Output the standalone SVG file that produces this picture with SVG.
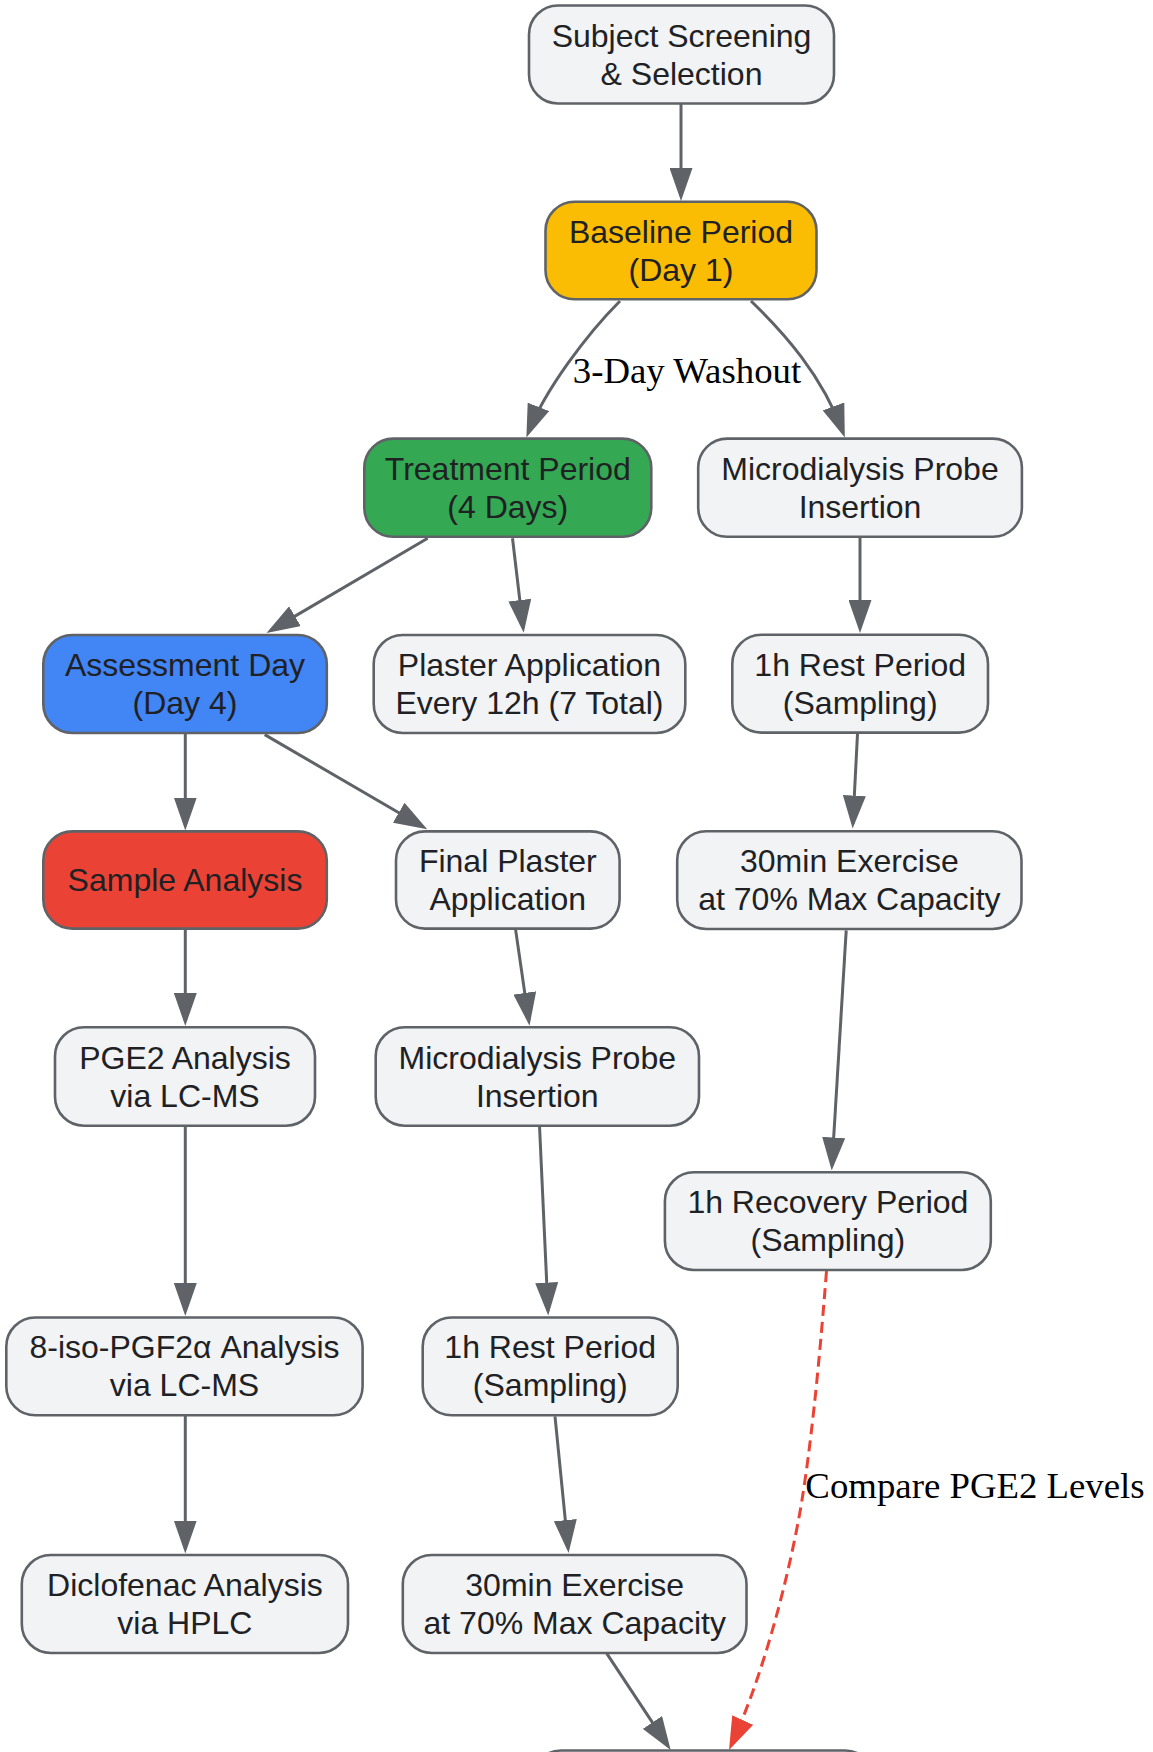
<svg xmlns="http://www.w3.org/2000/svg" width="1153" height="1752" viewBox="0 0 1153 1752">
<style>
.n rect{stroke:#5f6368;stroke-width:2.6}
.g rect{fill:#f1f3f4}
.n text{font-family:"Liberation Sans",Arial,sans-serif;font-size:32px;fill:#202124;text-anchor:middle}
.e{fill:none;stroke:#5f6368;stroke-width:3;marker-end:url(#ah)}
.r{fill:none;stroke:#ea4335;stroke-width:3;stroke-dasharray:11 6;marker-end:url(#ahr)}
.lbl{font-family:"Liberation Serif","Times New Roman",serif;font-size:36.8px;fill:#000;text-anchor:middle}
</style>
<defs>
<marker id="ah" markerUnits="userSpaceOnUse" markerWidth="33" markerHeight="23" refX="28" refY="11.5" orient="auto"><path d="M0,0L33,11.5L0,23z" fill="#5f6368"/></marker>
<marker id="ahr" markerUnits="userSpaceOnUse" markerWidth="33" markerHeight="23" refX="28" refY="11.5" orient="auto"><path d="M0,0L33,11.5L0,23z" fill="#ea4335"/></marker>
</defs>
<rect width="1153" height="1752" fill="#fff"/>
<g id="connectors">
<path class="e" d="M681,104L681,196"/>
<path class="e" d="M620,301C587,334 545,390 528.2,432.9"/>
<path class="e" d="M751,301C784,333 822,375 843.1,432.7"/>
<path class="e" d="M427.7,538.2L270.8,630.4"/>
<path class="e" d="M512.5,538.2L523.1,627.9"/>
<path class="e" d="M860,537L860,628"/>
<path class="e" d="M185.3,733L185.3,825.5"/>
<path class="e" d="M264.7,734.6L422.9,826.8"/>
<path class="e" d="M857.5,733.9L852.9,823.6"/>
<path class="e" d="M515.6,929.6L528.8,1020.7"/>
<path class="e" d="M185.3,928.6L185.3,1021"/>
<path class="e" d="M846.2,930.4L832,1165.5"/>
<path class="e" d="M185.3,1125.7L185.3,1311"/>
<path class="e" d="M539.5,1125.7L548,1310.6"/>
<path class="e" d="M185.3,1415.3L185.3,1548.5"/>
<path class="e" d="M555,1416.3L568.1,1548"/>
<path class="e" d="M606.7,1653.3L667.9,1745.8"/>
<path class="r" d="M826.5,1271C818,1380 810,1450 802,1500S770,1660 731.1,1745.5"/>
<text class="lbl" x="687" y="383">3-Day Washout</text>
<text class="lbl" x="975" y="1498">Compare PGE2 Levels</text>
</g>
<g id="n1" class="n g"><rect x="529" y="5.5" width="305" height="98" rx="29"/><text x="681.5" y="46.5">Subject Screening</text><text x="681.5" y="84.5">&amp; Selection</text></g>
<g id="n2" class="n"><rect x="545.5" y="201.8" width="271" height="97.5" rx="29" fill="#fbbc04"/><text x="681" y="242.5">Baseline Period</text><text x="681" y="280.5">(Day 1)</text></g>
<g id="n3" class="n"><rect x="364.3" y="438.6" width="287" height="98.2" rx="29" fill="#34a853"/><text x="507.8" y="479.7">Treatment Period</text><text x="507.8" y="517.7">(4 Days)</text></g>
<g id="n4" class="n g"><rect x="698.2" y="438.6" width="323.7" height="98.2" rx="29"/><text x="860" y="479.7">Microdialysis Probe</text><text x="860" y="517.7">Insertion</text></g>
<g id="n5" class="n"><rect x="43.3" y="635" width="283.5" height="98" rx="29" fill="#4285f4"/><text x="185" y="676">Assessment Day</text><text x="185" y="714">(Day 4)</text></g>
<g id="n6" class="n g"><rect x="373.7" y="635" width="311.6" height="98" rx="29"/><text x="529.5" y="676">Plaster Application</text><text x="529.5" y="714">Every 12h (7 Total)</text></g>
<g id="n7" class="n g"><rect x="732.3" y="634.8" width="255.7" height="97.8" rx="29"/><text x="860.2" y="675.7">1h Rest Period</text><text x="860.2" y="713.7">(Sampling)</text></g>
<g id="n8" class="n"><rect x="43.3" y="831.4" width="283.5" height="97.2" rx="29" fill="#ea4335"/><text x="185" y="891">Sample Analysis</text></g>
<g id="n9" class="n g"><rect x="396" y="831.4" width="223.6" height="97.2" rx="29"/><text x="507.8" y="872">Final Plaster</text><text x="507.8" y="910">Application</text></g>
<g id="n10" class="n g"><rect x="677.2" y="831.3" width="344.3" height="97.7" rx="29"/><text x="849.4" y="872.2">30min Exercise</text><text x="849.4" y="910.2">at 70% Max Capacity</text></g>
<g id="n11" class="n g"><rect x="55" y="1027.3" width="260" height="98.4" rx="29"/><text x="185" y="1068.5">PGE2 Analysis</text><text x="185" y="1106.5">via LC-MS</text></g>
<g id="n12" class="n g"><rect x="375.7" y="1027.3" width="323.3" height="98.4" rx="29"/><text x="537.3" y="1068.5">Microdialysis Probe</text><text x="537.3" y="1106.5">Insertion</text></g>
<g id="n13" class="n g"><rect x="664.9" y="1172.3" width="325.9" height="97.7" rx="29"/><text x="827.9" y="1213.2">1h Recovery Period</text><text x="827.9" y="1251.2">(Sampling)</text></g>
<g id="n14" class="n g"><rect x="6.3" y="1317.5" width="356.3" height="97.8" rx="29"/><text x="184.5" y="1358.4">8-iso-PGF2α Analysis</text><text x="184.5" y="1396.4">via LC-MS</text></g>
<g id="n15" class="n g"><rect x="422.7" y="1317.5" width="255" height="97.8" rx="29"/><text x="550.2" y="1358.4">1h Rest Period</text><text x="550.2" y="1396.4">(Sampling)</text></g>
<g id="n16" class="n g"><rect x="21.8" y="1555" width="326.2" height="98" rx="29"/><text x="184.9" y="1596">Diclofenac Analysis</text><text x="184.9" y="1634">via HPLC</text></g>
<g id="n17" class="n g"><rect x="402.8" y="1555" width="343.7" height="98" rx="29"/><text x="574.7" y="1596">30min Exercise</text><text x="574.7" y="1634">at 70% Max Capacity</text></g>
<g id="n18" class="n g"><rect x="532" y="1750.5" width="342" height="98" rx="29"/></g>
</svg>
